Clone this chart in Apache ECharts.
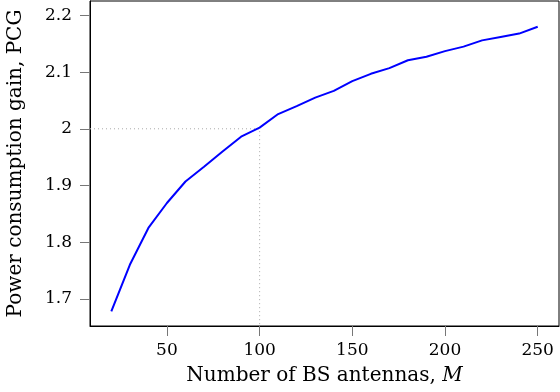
<!DOCTYPE html>
<html><head><meta charset="utf-8">
<script src="https://cdn.jsdelivr.net/npm/echarts@6/dist/echarts.min.js"></script>
<style>html,body{margin:0;padding:0;background:#fff}#c{width:560px;height:392px}</style>
</head><body><div id="c"></div>
<script>
const antennas = [20,30,40,50,60,70,80,90,100,110,120,130,140,150,160,170,180,190,200,210,220,230,240,250];
const pcg = [1.678,1.760,1.825,1.869,1.907,1.933,1.960,1.986,2.002,2.026,2.040,2.055,2.067,2.084,2.097,2.107,2.121,2.127,2.137,2.145,2.156,2.162,2.168,2.180];
const xTicks = [50,100,150,200,250];
const yTicks = [1.7,1.8,1.9,2.0,2.1,2.2];
const refM = 100, refPCG = 2.0;
const xMin = 8.5, xMax = 261.5, yMin = 1.652, yMax = 2.2255;

const font = '"DejaVu Serif", "Liberation Serif", serif';
const chart = echarts.init(document.getElementById('c'), null, {renderer:'canvas'});
chart.setOption({
  animation:false,
  grid:{left:90,right:1,top:1,bottom:66,outerBoundsMode:'none',containLabel:false,show:true,borderColor:'#000',borderWidth:1,backgroundColor:'transparent'},
  xAxis:{type:'value',min:xMin,max:xMax,
    name:'{n|Number of BS antennas, }{i|M}',nameLocation:'middle',nameGap:40,
    nameTextStyle:{rich:{n:{fontFamily:font,fontSize:20,color:'#000'},i:{fontFamily:font,fontSize:20,fontStyle:'italic',color:'#000'}}},
    axisLine:{show:true,lineStyle:{color:'#000',width:1}},
    axisTick:{show:true,inside:false,length:10,lineStyle:{color:'#777'},customValues:xTicks},
    axisLabel:{show:true,margin:16,fontFamily:font,fontSize:17,color:'#000',customValues:xTicks},
    splitLine:{show:false}},
  yAxis:{type:'value',min:yMin,max:yMax,
    name:'Power consumption gain, PCG',nameLocation:'middle',nameGap:64,nameRotate:90,
    nameTextStyle:{fontFamily:font,fontSize:20,color:'#000'},
    axisLine:{show:true,lineStyle:{color:'#000',width:1}},
    axisTick:{show:true,inside:false,length:10,lineStyle:{color:'#777'},customValues:yTicks},
    axisLabel:{show:true,margin:18,fontFamily:font,fontSize:17,color:'#000',customValues:yTicks,
      formatter:v=>String(parseFloat(Number(v).toFixed(1)))},
    splitLine:{show:false}},
  series:[
    {type:'line',data:[[xMin,refPCG],[refM,refPCG],[refM,yMin]],symbol:'none',
      lineStyle:{color:'#aaa',width:1,type:[1,3]},z:1},
    {type:'line',data:antennas.map((m,i)=>[m,pcg[i]]),symbol:'none',
      lineStyle:{color:'#0000ff',width:2},z:3}
  ]
});
</script></body></html>
